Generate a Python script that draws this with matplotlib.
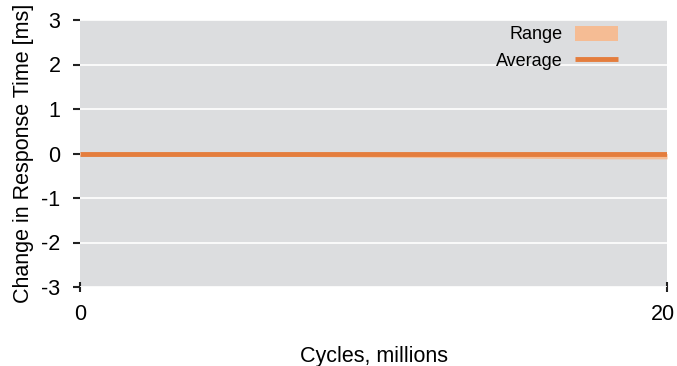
import matplotlib
matplotlib.use("Agg")
import matplotlib.pyplot as plt
import matplotlib.transforms as mtransforms

plt.rcParams['font.family'] = ['Liberation Sans', 'DejaVu Sans']

# Response-time drift over the endurance run
cycles = [0, 2, 4, 6, 8, 10, 12, 14, 16, 18, 20]
avg = [0.0, 0.0, 0.0, 0.0, 0.0, 0.0, 0.0, 0.0, 0.0, 0.0, 0.0]
range_lo = [0.0, -0.01, -0.03, -0.05, -0.07, -0.08, -0.09, -0.10, -0.11, -0.12, -0.12]
range_hi = [0.0, 0.0, 0.0, 0.0, 0.0, 0.0, 0.0, 0.0, 0.0, 0.0, 0.0]
yticks = [-3, -2, -1, 0, 1, 2, 3]
xticks = [0, 20]

fig = plt.figure(figsize=(6.77, 3.66), dpi=100)
ax = fig.add_axes([80 / 677, 1 - 287 / 366, (667 - 80) / 677, (287 - 20) / 366])
ax.set_facecolor('#dcdddf')

ax.fill_between(cycles, range_lo, range_hi, color='#f5bc94', lw=0, label='Range')
ax.plot(cycles, avg, color='#e47d3d', lw=3.5, label='Average', solid_capstyle='butt')

ax.set_xlim(0, 20)
ax.set_ylim(-3, 3)
ax.set_yticks(yticks)
ax.set_yticklabels([str(v) for v in yticks])
ax.set_xticks(xticks)
ax.yaxis.grid(True, color='white', lw=1.2)
ax.set_axisbelow(True)
for s in ax.spines.values():
    s.set_visible(False)
ax.tick_params(axis='y', length=5, width=1.5, color='#222222', labelsize=15.5, pad=9)
ax.tick_params(axis='x', length=7, width=1.5, color='#222222', labelsize=15.5, pad=9, direction='inout')

# keep the last x tick label inside the canvas
last = ax.get_xticklabels()[-1]
last.set_transform(last.get_transform() +
                   mtransforms.ScaledTranslation(-4 / 100, 0, fig.dpi_scale_trans))

ax.set_xlabel('Cycles, millions', fontsize=15.5, labelpad=15)
ax.set_ylabel('Change in Response Time [ms]', fontsize=15.5, labelpad=5)

leg = ax.legend(loc='upper right', frameon=False, fontsize=13, markerfirst=False,
                handlelength=2.35, handleheight=0.9, labelspacing=0.5, handletextpad=0.7,
                bbox_to_anchor=(0.944, 1.04))

fig.savefig('out.png', dpi=100)
